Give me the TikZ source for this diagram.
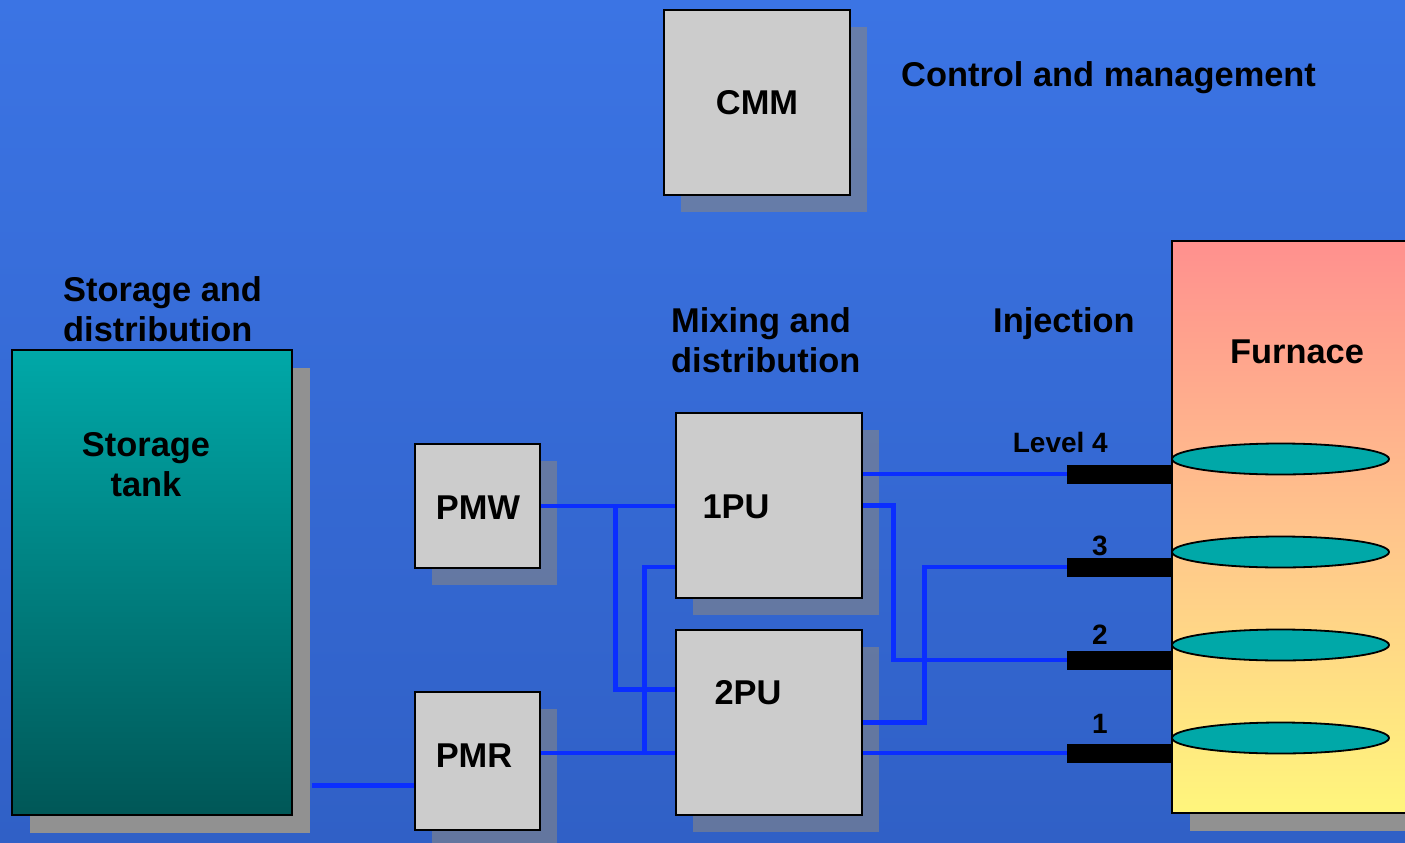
\documentclass[tikz,border=0pt]{standalone}
\usepackage{fontspec}
\setmainfont{Liberation Sans}
\usetikzlibrary{shapes.geometric,shadows,calc}
\definecolor{bgtop}{RGB}{59,116,228}
\definecolor{bgbot}{RGB}{48,96,198}
\definecolor{boxgray}{RGB}{204,204,204}
\definecolor{shadegray}{RGB}{133,133,133}
\definecolor{darkshade}{RGB}{145,145,145}
\definecolor{pipeblue}{RGB}{10,46,255}
\definecolor{tealtop}{RGB}{0,168,168}
\definecolor{tealbot}{RGB}{0,87,87}
\definecolor{firetop}{RGB}{255,144,142}
\definecolor{firemid}{RGB}{255,196,140}
\definecolor{firebot}{RGB}{255,246,124}
\begin{document}
\begin{tikzpicture}[x=1pt, y=-1pt, font=\bfseries]
		\tikzset{box/.style={draw=black, line width=2.4pt, fill=boxgray, inner sep=0,
				drop shadow={shadow xshift=17pt, shadow yshift=-17pt, fill=shadegray, opacity=.6}},
			solid shade/.style={drop shadow={shadow xshift=18pt, shadow yshift=-18pt, fill=darkshade, opacity=1}},
			pipe/.style={draw=pipeblue, line width=4.8pt},
			bar/.style={fill=black, inner sep=0, minimum width=105pt, minimum height=19pt},
			ring/.style={ellipse, draw=black, line width=1.8pt, fill=tealtop, inner sep=0, minimum width=217pt, minimum height=31pt},
			big/.style={font=\fontsize{34.4}{40}\selectfont\bfseries, inner sep=0},
			small/.style={font=\fontsize{28}{32}\selectfont\bfseries, inner sep=0}}
		\useasboundingbox (0,0) rectangle (1405,843);
		\clip (0,0) rectangle (1405,843);
		\shade[top color=bgtop, bottom color=bgbot] (0,0) rectangle (1405,843);
		% boxes
		\node[box, minimum width=186pt, minimum height=185pt, big] (cmm) at (757,102.5) {CMM};
		\node[draw=black, line width=2.4pt, solid shade, top color=tealtop, bottom color=tealbot, minimum width=280pt, minimum height=465pt] (tank) at (152,582.5) {};
		\node[box, minimum width=125pt, minimum height=124pt] (pmw) at (477.5,506) {};
		\node[box, minimum width=125pt, minimum height=138pt] (pmr) at (477.5,761) {};
		\node[box, minimum width=186pt, minimum height=185pt] (pu1) at (769,505.5) {};
		\node[box, minimum width=186pt, minimum height=185pt] (pu2) at (769,722.5) {};
		\node[draw=black, line width=2.4pt, solid shade, top color=firetop, bottom color=firebot, middle color=firemid, minimum width=248pt, minimum height=572pt] (furnace) at (1296,527) {};
		% injection levels
		\foreach \n/\y in {4/474,3/567,2/660,1/753}{
			\node[bar] (inj\n) at (1119.5,\y) {};
			\node[ring] (ring\n) at (1280.5,\y-15) {};
		}
		\node[small, anchor=base east] (lvl4) at (1108,452) {Level 4};
		\node[small, anchor=base east] (lvl3) at (1108,555) {3};
		\node[small, anchor=base east] (lvl2) at (1108,644) {2};
		\node[small, anchor=base east] (lvl1) at (1108,733) {1};
		% pipes
		\coordinate (pmr-in) at ([yshift=46pt]pmr.south west);
		\draw[pipe] (pmr-in) -- ($(tank.east |- pmr-in)+(19,0)$);
		\draw[pipe] (pmw.east) -- (pu1.west |- pmw.east);
		\draw[pipe] ([yshift=-61pt]pu2.north west) -| ([xshift=74pt]pmw.east);
		\draw[pipe] (pmr.east |- inj1.west) -- (pu2.west |- inj1.west);
		\draw[pipe] (pu1.west |- inj3.west) -| ([xshift=-30pt]pu2.west |- inj1.west);
		\draw[pipe] (pu1.east |- inj4.west) -- (inj4.west);
		\draw[pipe] (pu1.east) -- ++(30,0) |- (inj2.west);
		\draw[pipe] (pu2.east) -- ++(61,0) |- (inj3.west);
		\draw[pipe] (pu2.east |- inj1.west) -- (inj1.west);
		% labels
		\node[big, anchor=base west] (ctrl) at (901,86) {Control and management};
		\node[big, anchor=base west, align=left] (stor) at (63,341) {Storage and\\distribution};
		\node[big, anchor=base, align=center] (tanktxt) at (146,496) {Storage\\tank};
		\node[big, anchor=base] (pmwtxt) at (478,519) {PMW};
		\node[big, anchor=base] (pmrtxt) at (474,767) {PMR};
		\node[big, anchor=base] (pu1txt) at (736,518) {1PU};
		\node[big, anchor=base] (pu2txt) at (748,704) {2PU};
		\node[big, anchor=base west, align=left] (mix) at (671,372) {Mixing and\\distribution};
		\node[big, anchor=base west] (inj) at (993,332) {Injection};
		\node[big, anchor=base] (furn) at (1297,363) {Furnace};
\end{tikzpicture}
\end{document}
